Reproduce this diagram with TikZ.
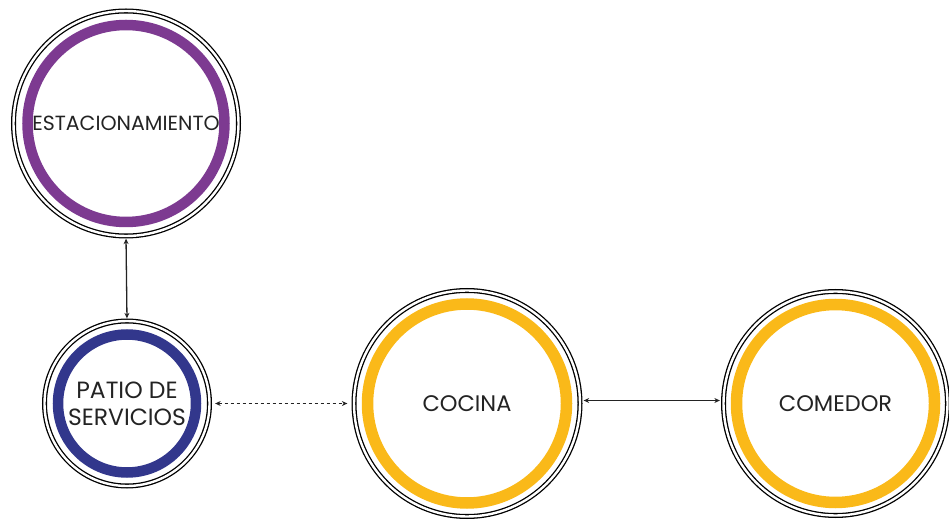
\documentclass[tikz,border=0pt]{standalone}
\usepackage{fontspec}
\setmainfont{Poppins}
\usepackage{xcolor}
\definecolor{ringpurple}{RGB}{125,58,145}
\definecolor{ringblue}{RGB}{50,55,140}
\definecolor{ringyellow}{RGB}{250,185,25}
\definecolor{textdark}{RGB}{35,35,35}
\usetikzlibrary{arrows.meta,positioning}

\begin{document}
\begin{tikzpicture}[
  x=1pt, y=1pt,
  >={Stealth[length=5.5pt,width=5pt]},
  room/.style={circle, draw=black, double=white, double distance=2.4pt, line width=1.3pt, minimum size=#1, inner sep=0pt, align=center, text=textdark},
  link/.style={<->, line width=1.3pt, draw=textdark}
]
\useasboundingbox (0,0) rectangle (949,522);

\node[room=225pt, font=\fontsize{20.5}{24}\selectfont] (parking) at (126,398.5) {ESTACIONAMIENTO};
\node[room=165pt, font=\fontsize{23.5}{27}\selectfont] (patio) at (127,118.5) {PATIO DE\\SERVICIOS};
\node[room=226pt, font=\fontsize{22.5}{26}\selectfont] (kitchen) at (467,118.5) {COCINA};
\node[room=224pt, font=\fontsize{22.5}{26}\selectfont] (dining) at (835.5,118.5) {COMEDOR};

% coloured rings
\draw[ringpurple, line width=10.5pt] (parking.center) circle (98.5);
\draw[ringblue, line width=10.5pt] (patio.center) circle (69);
\draw[ringyellow, line width=11.5pt] (kitchen.center) circle (99.5);
\draw[ringyellow, line width=11.5pt] (dining.center) circle (99);

% connections
\draw[link, shorten <=2pt, shorten >=2pt] (parking.south) -- (patio.north);
\draw[link, dashed, shorten <=5pt, shorten >=6pt] (patio.east) -- (kitchen.west);
\draw[link, shorten <=3pt, shorten >=3pt] ([yshift=3pt]kitchen.east) -- ([yshift=3pt]dining.west);
\end{tikzpicture}
\end{document}
